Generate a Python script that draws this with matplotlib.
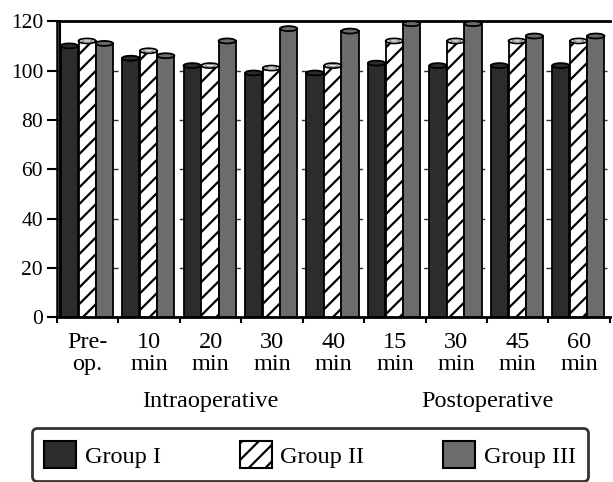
import matplotlib
matplotlib.use("Agg")
import matplotlib.pyplot as plt
from matplotlib.patches import Ellipse, Patch
import numpy as np

categories = ["Pre-\nop.", "10\nmin", "20\nmin", "30\nmin", "40\nmin",
              "15\nmin", "30\nmin", "45\nmin", "60\nmin"]
group1 = [110, 105, 102, 99, 99, 103, 102, 102, 102]
group2 = [112, 108, 102, 101, 102, 112, 112, 112, 112]
group3 = [111, 106, 112, 117, 116, 119, 119, 114, 114]
series_names = ["Group I", "Group II", "Group III"]
phase_labels = ["Intraoperative", "Postoperative"]
yticks = [0, 20, 40, 60, 80, 100, 120]

plt.rcParams['font.family'] = ['Liberation Serif', 'DejaVu Serif']
plt.rcParams['hatch.linewidth'] = 1.6

fig = plt.figure(figsize=(6.13, 4.82), dpi=100)
ax = fig.add_axes([0.093, 0.342, 0.902, 0.614])

x = np.arange(len(categories))
w = 0.28
offs = [-0.30, -0.01, 0.27]
colors = ["#2c2c2c", "white", "#6c6c6c"]
hatches = [None, "//", None]
series = [group1, group2, group3]

for vals, off, col, h in zip(series, offs, colors, hatches):
    ax.bar(x + off, vals, width=w, color=col, edgecolor="black", linewidth=1.3,
           hatch=h, zorder=3)
    for xi, v in zip(x + off, vals):
        ax.add_patch(Ellipse((xi, v), w, 2.0, facecolor=col, edgecolor="black",
                             linewidth=1.3, zorder=4))
        if col == "white":
            ax.add_patch(Ellipse((xi, v), w * 0.6, 0.9, facecolor="white",
                                 edgecolor="#888888", linewidth=0.8, zorder=5))

ax.set_xlim(-0.5, len(categories) - 0.5)
ax.set_ylim(0, 120)
ax.set_yticks(yticks)
ax.set_yticklabels([str(t) for t in yticks], fontsize=15.5)
ax.set_xticks(x)
ax.set_xticklabels(categories, fontsize=17.5, linespacing=1.05)
ax.set_xticks(np.arange(-0.5, len(categories), 1.0), minor=True)
ax.tick_params(axis='x', which='major', length=0, pad=11)
ax.tick_params(axis='x', which='minor', length=4, width=1.5, direction='out')
ax.tick_params(axis='y', length=7, width=1.5, pad=3)

for t in yticks[1:-1]:
    ax.axhline(t, color="#333333", linewidth=1.0, linestyle=(0, (4, 4)), zorder=1)

ax.spines['right'].set_visible(False)
ax.spines['top'].set_linewidth(2)
ax.spines['bottom'].set_linewidth(2)
ax.spines['left'].set_linewidth(1.8)
ax.plot([-0.45, -0.45], [0, 120], color="black", linewidth=1.5, zorder=2,
        clip_on=False)

trans = matplotlib.transforms.blended_transform_factory(ax.transData, fig.transFigure)
ax.text(2, 0.156, phase_labels[0], transform=trans, ha='center', va='baseline',
        fontsize=17.5)
ax.text(6.5, 0.156, phase_labels[1], transform=trans, ha='center', va='baseline',
        fontsize=17.5)

handles = [Patch(facecolor=c, edgecolor="black", linewidth=1.5, hatch=h)
           for c, h in zip(colors, hatches)]
leg = fig.legend(handles, series_names, ncol=3, mode='expand',
                 bbox_to_anchor=(0.052, 0.003, 0.907, 0.112), loc='lower left',
                 borderaxespad=0, fontsize=17.5, handlelength=1.32, handleheight=1.38,
                 handletextpad=0.35, borderpad=0.5, fancybox=True, frameon=True)
leg.get_frame().set_edgecolor("black")
leg.get_frame().set_linewidth(2)

fig.savefig("out.png", dpi=100)
